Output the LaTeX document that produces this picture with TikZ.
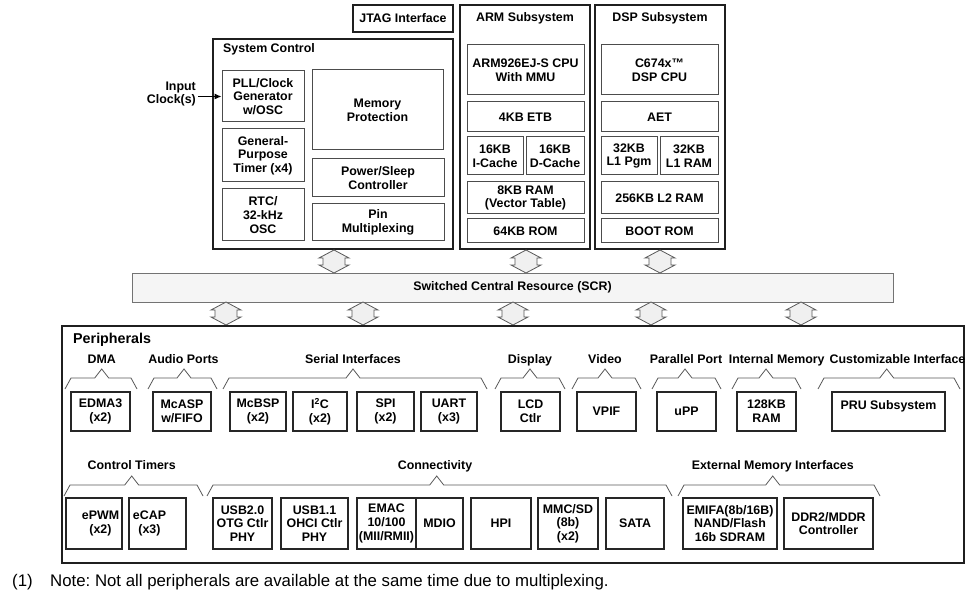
\documentclass[tikz,border=0pt]{standalone}
\usepackage{fontspec}
\setmainfont{Liberation Sans}
\usetikzlibrary{arrows.meta}
\newcommand\lbl{\fontsize{12.4}{13.7}\selectfont\bfseries}
\tikzset{
  big/.style={draw=black!88, line width=2.6pt, inner sep=0pt, font=\lbl},
  sub/.style={draw=black!70, line width=1pt, align=center, inner sep=0pt, font=\lbl},
  per/.style={draw=black!85, line width=1.8pt, align=center, inner sep=0pt, font=\lbl},
  ttl/.style={font=\lbl, inner sep=0pt, text height=9pt, text depth=2.7pt},
  clkttl/.style={font=\lbl, inner sep=0pt, align=right},
  brc/.style={draw=black!65, line width=0.8pt},
  dbl/.style={draw=black!65, fill=black!6, line width=0.8pt},
  scr/.style={draw=black!55, fill=black!4, line width=0.9pt, inner sep=0pt, font=\lbl},
}
\newcommand\bx[7]{\node[#1, minimum width={(#5)-(#3)}, minimum height={(#6)-(#4)}] (#2) at ({((#3)+(#5))/2},{((#4)+(#6))/2}) {#7};}
\newcommand\darr[3]{\path[dbl] (#1,#2) -- ({#1+15},{#2+8}) -- ({#1+11},{#2+8}) -- ({#1+11},{#3-8}) -- ({#1+15},{#3-8}) -- (#1,#3) -- ({#1-15},{#3-8}) -- ({#1-11},{#3-8}) -- ({#1-11},{#2+8}) -- ({#1-15},{#2+8}) -- cycle;}
\newcommand\grp[4]{\draw[brc] (#1,{#4+11}) -- ({#1+6},#4) -- ({#3-7},#4) -- (#3,{#4-9}) -- ({#3+7},#4) -- ({#2-6},#4) -- (#2,{#4+11});}
\begin{document}
\begin{tikzpicture}[x=1pt,y=-1pt]
\useasboundingbox (0,0) rectangle (972,601);
\fill[white] (0,0) rectangle (972,601);
% ---- top row frames
\bx{big}{jtag}{353}{5}{453}{32}{JTAG Interface}
\bx{big}{sysctl}{213}{39}{453}{249}{}
\bx{big}{arm}{460}{5}{590}{249}{}
\bx{big}{dsp}{595}{5}{725}{249}{}
\node[ttl, anchor=west] (sysctlT) at (223,49) {System Control};
\node[ttl] (armT) at (525,18) {ARM Subsystem};
\node[ttl] (dspT) at (660,18) {DSP Subsystem};
% ---- system control
\bx{sub}{pll}{222}{71}{304}{122}{PLL/Clock\\Generator\\w/OSC}
\bx{sub}{gpt}{222}{129}{304}{182}{General-\\Purpose\\Timer (x4)}
\bx{sub}{rtc}{222}{189}{304}{241}{RTC/\\32-kHz\\OSC}
\bx{sub}{mprot}{312}{70}{443}{150}{Memory\\Protection}
\bx{sub}{psc}{312}{159}{444}{197}{Power/Sleep\\Controller}
\bx{sub}{pinmux}{312}{204}{444}{241}{Pin\\Multiplexing}
\node[clkttl, anchor=east] (clk) at (196,94) {Input\\Clock(s)};
\draw[line width=1pt, -{Latex[length=7pt,width=6pt]}] ([xshift=2pt]clk.east |- pll.west) -- (pll.west);
% ---- ARM
\bx{sub}{armcpu}{467}{45}{584}{95}{ARM926EJ-S CPU\\With MMU}
\bx{sub}{etb}{467}{102}{584}{132}{4KB ETB}
\bx{sub}{icache}{467}{137}{523}{175}{16KB\\I-Cache}
\bx{sub}{dcache}{526}{137}{584}{175}{16KB\\D-Cache}
\bx{sub}{armram}{467}{182}{584}{214}{8KB RAM\\(Vector Table)}
\bx{sub}{armrom}{467}{219}{584}{243}{64KB ROM}
% ---- DSP
\bx{sub}{dspcpu}{601}{45}{718}{95}{C674x™\\DSP CPU}
\bx{sub}{aet}{601}{102}{718}{132}{AET}
\bx{sub}{lpgm}{601}{137}{657}{175}{32KB\\L1 Pgm}
\bx{sub}{lram}{660}{137}{718}{175}{32KB\\L1 RAM}
\bx{sub}{ltwo}{601}{182}{718}{214}{256KB L2 RAM}
\bx{sub}{boot}{601}{219}{718}{243}{BOOT ROM}
% ---- SCR
\darr{334}{250}{273}
\darr{526}{250}{273}
\darr{660}{250}{273}
\bx{scr}{scr}{132}{273}{893}{302}{Switched Central Resource (SCR)}
\darr{226}{302}{325}
\darr{363}{302}{325}
\darr{513}{302}{325}
\darr{651}{302}{325}
\darr{801}{302}{325}
% ---- peripherals
\bx{big}{periph}{62}{326}{964}{563}{}
\node[font=\fontsize{14.3}{16}\selectfont\bfseries, inner sep=0pt, anchor=west] (periphT) at (73,340) {Peripherals};
% row 1 labels
\node[ttl] (gdma) at (101.7,360) {DMA};
\node[ttl] (gaud) at (183.5,360) {Audio Ports};
\node[ttl] (gser) at (353,360) {Serial Interfaces};
\node[ttl] (gdis) at (530,360) {Display};
\node[ttl] (gvid) at (605,360) {Video};
\node[ttl] (gpar) at (686,360) {Parallel Port};
\node[ttl] (gmem) at (776.7,360) {Internal Memory};
\node[ttl] (gcus) at (897.5,360) {Customizable Interface};
\grp{65}{137}{101.7}{378}
\grp{148}{217}{184}{378}
\grp{223}{487}{353}{378}
\grp{495}{565}{530}{378}
\grp{572}{641}{605}{378}
\grp{652}{721}{685}{378}
\grp{732}{801}{766}{378}
\grp{818}{960}{886.7}{378}
% row 1 boxes
\bx{per}{edma}{71}{392}{130}{431}{EDMA3\\(x2)}
\bx{per}{mcasp}{153}{392}{211}{431}{McASP\\w/FIFO}
\bx{per}{mcbsp}{230}{392}{286}{431}{McBSP\\(x2)}
\bx{per}{itwoc}{293}{392}{347}{431}{I\textsuperscript{2}C\\(x2)}
\bx{per}{spi}{357}{392}{414}{431}{SPI\\(x2)}
\bx{per}{uart}{421}{392}{477}{431}{UART\\(x3)}
\bx{per}{lcd}{501}{392}{560}{431}{LCD\\Ctlr}
\bx{per}{vpif}{577}{392}{636}{431}{VPIF}
\bx{per}{upp}{657}{392}{716}{431}{uPP}
\bx{per}{iram}{737}{392}{796}{431}{128KB\\RAM}
\bx{per}{pru}{832}{392}{945}{431}{PRU Subsystem\\\mbox{}}
% row 2 labels
\node[ttl] (gct) at (131.7,466) {Control Timers};
\node[ttl] (gcon) at (435,466) {Connectivity};
\node[ttl] (gext) at (772.8,466) {External Memory Interfaces};
\grp{64}{203}{131.7}{485}
\grp{207}{672}{436.7}{485}
\grp{678}{880}{772.7}{485}
% row 2 boxes
\bx{per}{epwm}{66}{498}{122}{549}{\hspace*{13pt}ePWM\\\hspace*{13pt}(x2)}
\bx{per}{ecap}{129}{498}{186}{549}{eCAP\hspace*{16pt}\\(x3)\hspace*{16pt}}
\bx{per}{usbtwo}{213}{498}{272}{549}{USB2.0\\OTG Ctlr\\PHY}
\bx{per}{usbone}{281}{498}{348}{549}{USB1.1\\OHCI Ctlr\\PHY}
\bx{per}{emac}{357}{498}{416}{549}{EMAC\\10/100\\(MII/RMII)}
\bx{per}{mdio}{416}{498}{463}{549}{MDIO}
\bx{per}{hpi}{471}{498}{531}{549}{HPI}
\bx{per}{mmc}{538}{498}{598}{549}{MMC/SD\\(8b)\\(x2)}
\bx{per}{sata}{606}{498}{664}{549}{SATA}
\bx{per}{emifa}{683}{498}{777}{549}{EMIFA(8b/16B)\\NAND/Flash\\16b SDRAM}
\bx{per}{ddr}{784}{498}{873}{549}{DDR2/MDDR\\Controller}
% ---- note
\node[font=\fontsize{16.8}{19}\selectfont, inner sep=0pt, anchor=west] (notenum) at (12,582) {(1)};
\node[font=\fontsize{16.8}{19}\selectfont\frenchspacing, inner sep=0pt, anchor=west] (note) at (50,582) {Note: Not all peripherals are available at the same time due to multiplexing.};
\end{tikzpicture}
\end{document}
